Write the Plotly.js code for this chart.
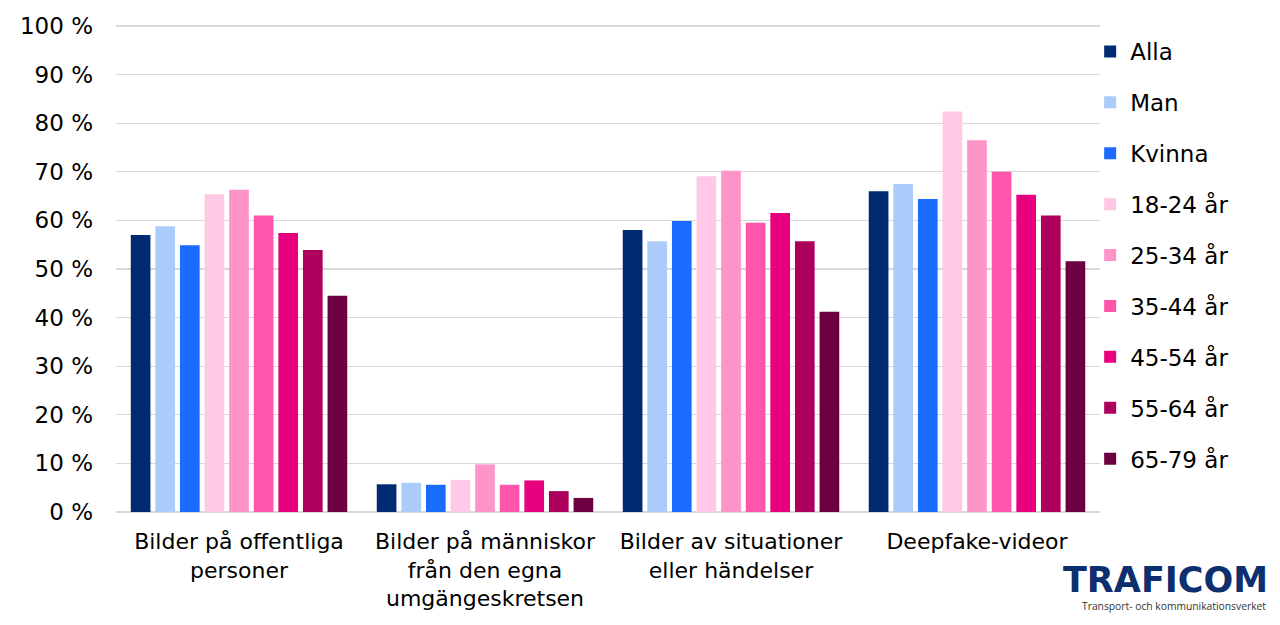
<!DOCTYPE html>
<html>
<head>
<meta charset="utf-8">
<script src="https://cdn.plot.ly/plotly-3.0.1.min.js"></script>
<style>
html,body{margin:0;padding:0;background:#fff;}
#chart{width:1280px;height:625px;}
</style>
</head>
<body>
<div id="chart"></div>
<script>
const categories = [
  "Bilder på offentliga<br>personer",
  "Bilder på människor<br>från den egna<br>umgängeskretsen",
  "Bilder av situationer<br>eller händelser",
  "Deepfake-videor"
];
const seriesNames = ["Alla","Man","Kvinna","18-24 år","25-34 år","35-44 år","45-54 år","55-64 år","65-79 år"];
const alla   = [57.0, 5.7, 58.0, 66.0];
const man    = [58.8, 6.0, 55.7, 67.5];
const kvinna = [54.9, 5.6, 59.9, 64.4];
const a18_24 = [65.4, 6.6, 69.1, 82.4];
const a25_34 = [66.3, 9.8, 70.2, 76.5];
const a35_44 = [61.0, 5.6, 59.5, 70.0];
const a45_54 = [57.4, 6.5, 61.5, 65.3];
const a55_64 = [53.9, 4.3, 55.7, 61.0];
const a65_79 = [44.5, 2.9, 41.2, 51.6];
const yTickVals = [0,10,20,30,40,50,60,70,80,90,100];
const yTickText = ["0 %","10 %","20 %","30 %","40 %","50 %","60 %","70 %","80 %","90 %","100 %"];

const seriesValues = [alla, man, kvinna, a18_24, a25_34, a35_44, a45_54, a55_64, a65_79];
const colors = ["#002b73","#abcbfb","#1a6cff","#ffc8e4","#ff94c9","#ff56ab","#e8007e","#ad005d","#6d0041"];

const FONT = "DejaVu Sans, Verdana, sans-serif";

const traces = seriesNames.map((n, i) => ({
  type: "bar",
  name: n,
  x: categories,
  y: seriesValues[i],
  legendgroup: "g" + i,
  marker: {color: colors[i], line: {width: 0}},
  hoverinfo: "name+y"
}));

const TOP = 24, BOTTOM = 113;
const plotW = 1280 - 116 - 180, plotH = 625 - TOP - BOTTOM;
// y range chosen so 0 sits at 512 px and 100 at 26 px, with a small headroom so the 100 % line is drawn
const yMax = 100 * (512 - TOP) / (512 - 26);

const layout = {
  width: 1280,
  height: 625,
  margin: {l: 116, r: 180, t: TOP, b: BOTTOM, pad: 0},
  paper_bgcolor: "#ffffff",
  plot_bgcolor: "#ffffff",
  font: {family: FONT, size: 22, color: "#000000"},
  barmode: "group",
  bargap: 0.1,
  bargroupgap: 0.2,
  showlegend: true,
  legend: {
    x: 0.99, xanchor: "left",
    y: 1.0 - 6 / plotH, yanchor: "top",
    font: {family: FONT, size: 23, color: "#000000"},
    tracegroupgap: 18,
    bgcolor: "rgba(0,0,0,0)"
  },
  xaxis: {
    type: "category",
    showgrid: false,
    showline: false,
    zeroline: false,
    ticks: "",
    tickfont: {family: FONT, size: 22, color: "#000"},
    ticklabelstandoff: 14
  },
  yaxis: {
    range: [0, yMax],
    tickvals: yTickVals,
    ticktext: yTickText,
    showgrid: true,
    gridcolor: "#d9d9d9",
    gridwidth: 1.3,
    zeroline: true,
    zerolinecolor: "#d9d9d9",
    zerolinewidth: 1.3,
    showline: false,
    ticks: "",
    tickfont: {family: FONT, size: 23, color: "#000"},
    ticklabelstandoff: 22
  },
  annotations: [
    {
      xref: "paper", yref: "paper",
      x: (1165 - 116) / plotW, y: (625 - BOTTOM - 580) / plotH,
      xanchor: "center", yanchor: "middle",
      text: "<b>TRAFICOM</b>",
      showarrow: false,
      font: {family: FONT, size: 35, color: "#0d2f6e"}
    },
    {
      xref: "paper", yref: "paper",
      x: (1268 - 116) / plotW, y: (625 - BOTTOM - 606) / plotH,
      xanchor: "right", yanchor: "middle",
      text: "Transport- och kommunikationsverket",
      showarrow: false,
      font: {family: "Open Sans, sans-serif", size: 10.3, color: "#333333"}
    }
  ]
};

Plotly.newPlot("chart", traces, layout, {displayModeBar: false, staticPlot: true});
</script>
</body>
</html>
